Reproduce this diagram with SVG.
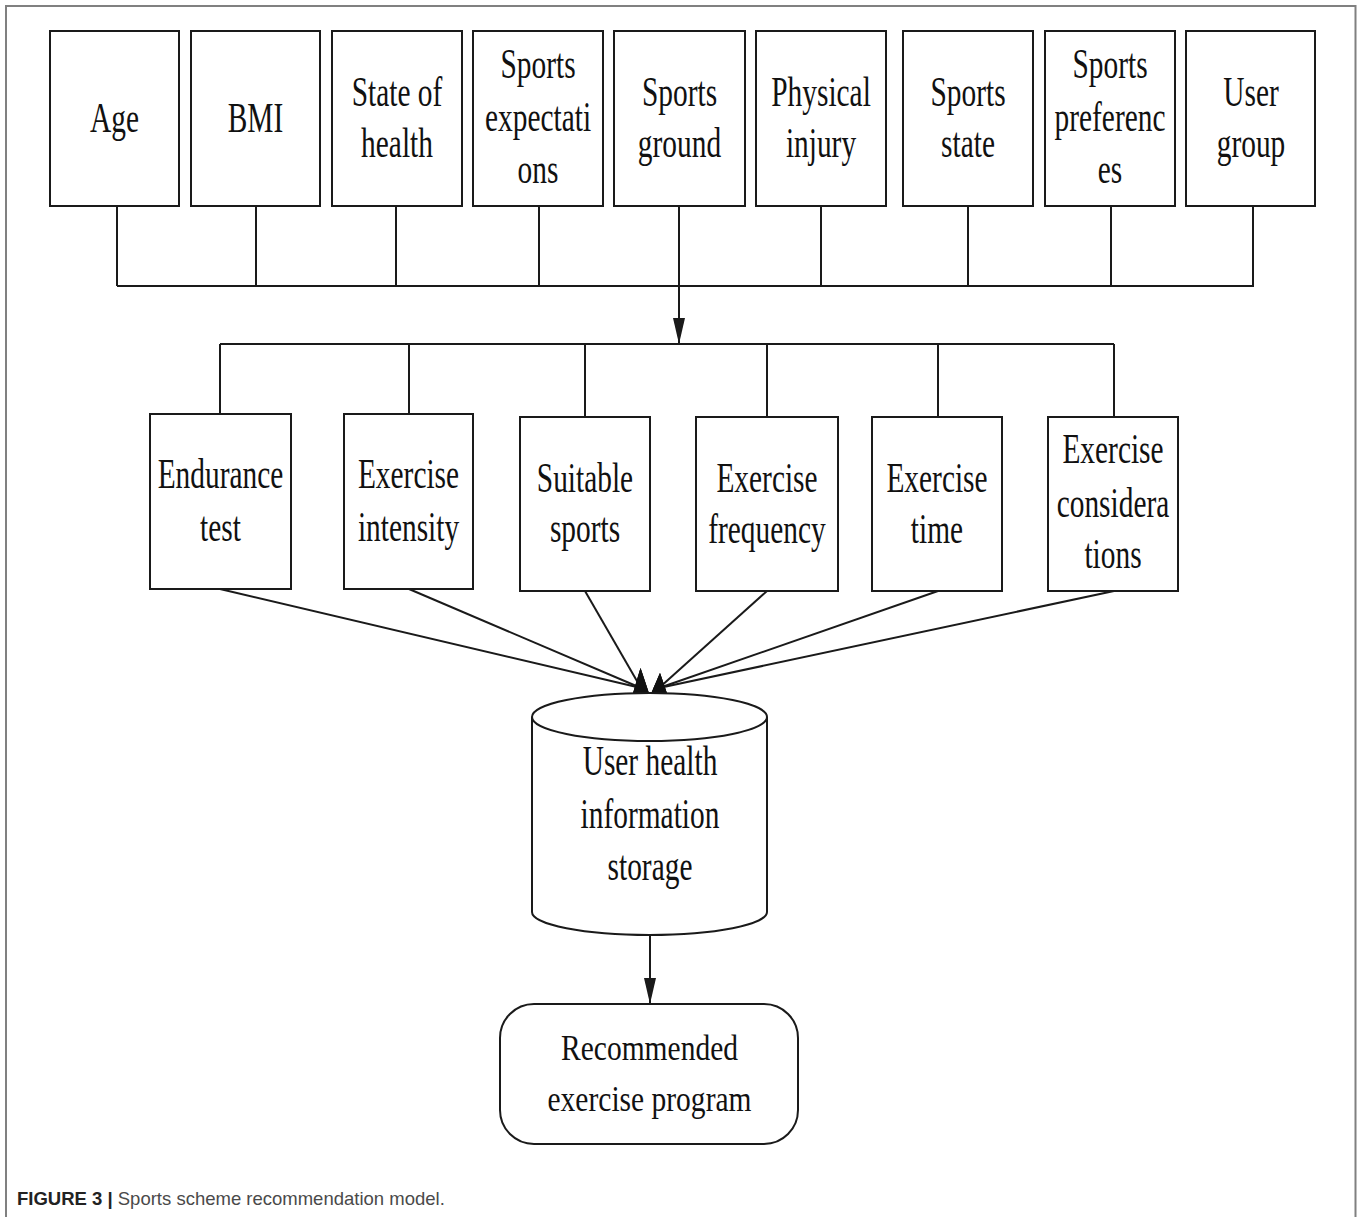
<svg xmlns="http://www.w3.org/2000/svg" width="1360" height="1217" viewBox="0 0 1360 1217">
  <style>
    .bg { fill: #ffffff; }
    .frame { fill: none; stroke: #808080; stroke-width: 2; }
    .box { fill: #ffffff; stroke: #1a1a1a; stroke-width: 2; }
    .wire { fill: none; stroke: #1a1a1a; stroke-width: 2; }
    .t { font-family: "Liberation Serif", "Times New Roman", serif; font-size: 42px; fill: #111111; text-anchor: middle; }
    .tb { font-family: "Liberation Serif", "Times New Roman", serif; font-size: 36px; fill: #111111; text-anchor: middle; }
    .cap1 { font-family: "Liberation Sans", Arial, sans-serif; font-size: 18.5px; font-weight: bold; fill: #222222; }
    .cap2 { font-family: "Liberation Sans", Arial, sans-serif; font-size: 18.5px; fill: #4a4a4a; }
  </style>
  <defs>
    <marker id="arr" markerUnits="userSpaceOnUse" markerWidth="26" markerHeight="12" refX="26" refY="6" orient="auto" overflow="visible">
      <path d="M0,0 L26,6 L0,12 Z" fill="#1a1a1a"/>
    </marker>
    <marker id="peakL" markerUnits="userSpaceOnUse" markerWidth="17" markerHeight="27" refX="8.5" refY="20" orient="0" overflow="visible">
      <path d="M8,0 L17,27 L0,27 Z" fill="#111111"/>
    </marker>
    <marker id="peakR" markerUnits="userSpaceOnUse" markerWidth="17" markerHeight="27" refX="8.5" refY="20" orient="0" overflow="visible">
      <path d="M9.5,5 L17,27 L0,27 Z" fill="#111111"/>
    </marker>
  </defs>

  <rect class="bg" x="0" y="0" width="1360" height="1217"/>
  <path class="frame" d="M6,1217 V6 H1355.5 V1217"/>

  <g id="connectors">
    <!-- top bus -->
    <line class="wire" x1="117" y1="206" x2="117" y2="286"/>
    <line class="wire" x1="256" y1="206" x2="256" y2="286"/>
    <line class="wire" x1="396" y1="206" x2="396" y2="286"/>
    <line class="wire" x1="539" y1="206" x2="539" y2="286"/>
    <line class="wire" x1="821" y1="206" x2="821" y2="286"/>
    <line class="wire" x1="968" y1="206" x2="968" y2="286"/>
    <line class="wire" x1="1111" y1="206" x2="1111" y2="286"/>
    <line class="wire" x1="1253" y1="206" x2="1253" y2="286"/>
    <line class="wire" x1="117" y1="286" x2="1254" y2="286"/>
    <line class="wire" x1="679" y1="206" x2="679" y2="344" marker-end="url(#arr)"/>
    <!-- second bus -->
    <line class="wire" x1="220" y1="344" x2="1114" y2="344"/>
    <line class="wire" x1="220" y1="344" x2="220" y2="414"/>
    <line class="wire" x1="409" y1="344" x2="409" y2="414"/>
    <line class="wire" x1="585" y1="344" x2="585" y2="417"/>
    <line class="wire" x1="767" y1="344" x2="767" y2="417"/>
    <line class="wire" x1="938" y1="344" x2="938" y2="417"/>
    <line class="wire" x1="1114" y1="344" x2="1114" y2="417"/>
    <!-- converging lines -->
    <line class="wire" x1="220" y1="589" x2="641" y2="688" marker-end="url(#peakL)"/>
    <line class="wire" x1="409" y1="589" x2="641" y2="688" marker-end="url(#peakL)"/>
    <line class="wire" x1="585" y1="591" x2="641" y2="688" marker-end="url(#peakL)"/>
    <line class="wire" x1="767" y1="591" x2="659" y2="688" marker-end="url(#peakR)"/>
    <line class="wire" x1="938" y1="591" x2="659" y2="688" marker-end="url(#peakR)"/>
    <line class="wire" x1="1114" y1="591" x2="659" y2="688" marker-end="url(#peakR)"/>
    <!-- storage to program -->
    <line class="wire" x1="650" y1="935" x2="650" y2="1004" marker-end="url(#arr)"/>
  </g>

  <g id="node-age">
    <rect class="box" x="50" y="31" width="129" height="175"/>
    <text class="t" transform="translate(114.5 0) scale(0.7 1)" y="132">Age</text>
  </g>
  <g id="node-bmi">
    <rect class="box" x="191" y="31" width="129" height="175"/>
    <text class="t" transform="translate(255.5 0) scale(0.7 1)" y="132">BMI</text>
  </g>
  <g id="node-health">
    <rect class="box" x="332" y="31" width="130" height="175"/>
    <text class="t" transform="translate(397 0) scale(0.7 1)"><tspan x="0" y="106">State of</tspan><tspan x="0" y="157">health</tspan></text>
  </g>
  <g id="node-expectations">
    <rect class="box" x="473" y="31" width="130" height="175"/>
    <text class="t" transform="translate(538 0) scale(0.7 1)"><tspan x="0" y="78">Sports</tspan><tspan x="0" y="131">expectati</tspan><tspan x="0" y="183">ons</tspan></text>
  </g>
  <g id="node-ground">
    <rect class="box" x="614" y="31" width="131" height="175"/>
    <text class="t" transform="translate(679.5 0) scale(0.7 1)"><tspan x="0" y="106">Sports</tspan><tspan x="0" y="157">ground</tspan></text>
  </g>
  <g id="node-injury">
    <rect class="box" x="756" y="31" width="130" height="175"/>
    <text class="t" transform="translate(821 0) scale(0.7 1)"><tspan x="0" y="106">Physical</tspan><tspan x="0" y="157">injury</tspan></text>
  </g>
  <g id="node-state">
    <rect class="box" x="903" y="31" width="130" height="175"/>
    <text class="t" transform="translate(968 0) scale(0.7 1)"><tspan x="0" y="106">Sports</tspan><tspan x="0" y="157">state</tspan></text>
  </g>
  <g id="node-preferences">
    <rect class="box" x="1045" y="31" width="130" height="175"/>
    <text class="t" transform="translate(1110 0) scale(0.7 1)"><tspan x="0" y="78">Sports</tspan><tspan x="0" y="131">preferenc</tspan><tspan x="0" y="183">es</tspan></text>
  </g>
  <g id="node-usergroup">
    <rect class="box" x="1186" y="31" width="129" height="175"/>
    <text class="t" transform="translate(1251 0) scale(0.7 1)"><tspan x="0" y="106">User</tspan><tspan x="0" y="157">group</tspan></text>
  </g>

  <g id="node-endurance">
    <rect class="box" x="150" y="414" width="141" height="175"/>
    <text class="t" transform="translate(220.5 0) scale(0.7 1)"><tspan x="0" y="488">Endurance</tspan><tspan x="0" y="541">test</tspan></text>
  </g>
  <g id="node-intensity">
    <rect class="box" x="344" y="414" width="129" height="175"/>
    <text class="t" transform="translate(408.5 0) scale(0.7 1)"><tspan x="0" y="488">Exercise</tspan><tspan x="0" y="541">intensity</tspan></text>
  </g>
  <g id="node-suitable">
    <rect class="box" x="520" y="417" width="130" height="174"/>
    <text class="t" transform="translate(585 0) scale(0.7 1)"><tspan x="0" y="492">Suitable</tspan><tspan x="0" y="542">sports</tspan></text>
  </g>
  <g id="node-frequency">
    <rect class="box" x="696" y="417" width="142" height="174"/>
    <text class="t" transform="translate(767 0) scale(0.7 1)"><tspan x="0" y="492">Exercise</tspan><tspan x="0" y="543">frequency</tspan></text>
  </g>
  <g id="node-time">
    <rect class="box" x="872" y="417" width="130" height="174"/>
    <text class="t" transform="translate(937 0) scale(0.7 1)"><tspan x="0" y="492">Exercise</tspan><tspan x="0" y="543">time</tspan></text>
  </g>
  <g id="node-considerations">
    <rect class="box" x="1048" y="417" width="130" height="174"/>
    <text class="t" transform="translate(1113 0) scale(0.7 1)"><tspan x="0" y="463">Exercise</tspan><tspan x="0" y="517">considera</tspan><tspan x="0" y="568">tions</tspan></text>
  </g>

  <g id="node-storage">
    <path class="box" d="M532,717 A117.5,24 0 0 1 767,717 V912 A117.5,23 0 0 1 532,912 Z"/>
    <path class="wire" d="M532,717 A117.5,24 0 0 0 767,717"/>
    <text class="t" transform="translate(650 0) scale(0.7 1)"><tspan x="0" y="775">User health</tspan><tspan x="0" y="828">information</tspan><tspan x="0" y="880">storage</tspan></text>
  </g>

  <g id="node-program">
    <rect class="box" x="500" y="1004" width="298" height="140" rx="34" ry="34"/>
    <text class="tb" transform="translate(649.5 0) scale(0.82 1)"><tspan x="0" y="1060">Recommended</tspan><tspan x="0" y="1111">exercise program</tspan></text>
  </g>

  <g id="caption">
    <text x="17" y="1205"><tspan class="cap1">FIGURE 3 | </tspan><tspan class="cap2">Sports scheme recommendation model.</tspan></text>
  </g>
</svg>
